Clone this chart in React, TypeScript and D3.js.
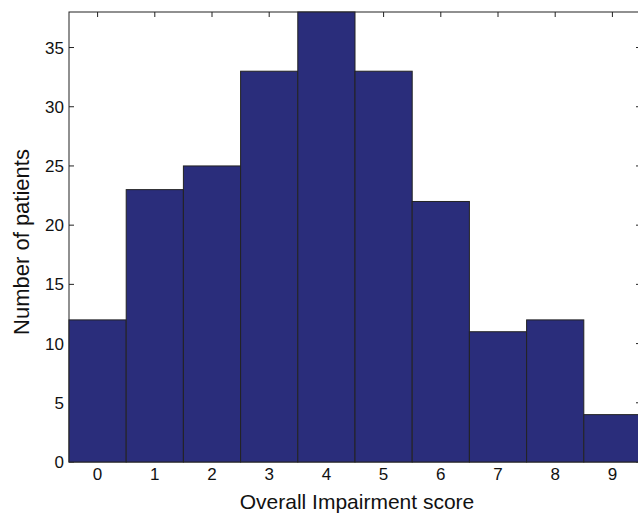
import { scaleLinear } from "d3";

// histogram of impairment scores
const scores = [0, 1, 2, 3, 4, 5, 6, 7, 8, 9];
const patients = [12, 23, 25, 33, 38, 33, 22, 11, 12, 4];
const yTicks = [0, 5, 10, 15, 20, 25, 30, 35];

const width = 638;
const height = 515;
const margin = { left: 69, top: 12, right: -3, bottom: 53 };

export default function App() {
  const x = scaleLinear()
    .domain([-0.5, 9.5])
    .range([margin.left, width - margin.right]);
  const y = scaleLinear()
    .domain([0, 38])
    .range([height - margin.bottom, margin.top]);

  const x0 = x.range()[0], x1 = x.range()[1];
  const y0 = y.range()[0], y1 = y.range()[1];
  const tick = 5;
  const font = "'Liberation Sans', Arial, Helvetica, sans-serif";

  return (
    <svg
      width={width}
      height={height}
      style={{ position: "absolute", left: 0, top: 0, background: "white" }}
      fontFamily={font}
    >
      <g fill="none" stroke="#222" strokeWidth={1}>
        <rect x={x0} y={y1} width={x1 - x0} height={y0 - y1} />
        {scores.map((s) => (
          <g key={s}>
            <line x1={x(s)} x2={x(s)} y1={y0} y2={y0 - tick} />
            <line x1={x(s)} x2={x(s)} y1={y1} y2={y1 + tick} />
          </g>
        ))}
        {yTicks.map((t) => (
          <g key={t}>
            <line x1={x0} x2={x0 + tick} y1={y(t)} y2={y(t)} />
            <line x1={x1} x2={x1 - tick} y1={y(t)} y2={y(t)} />
          </g>
        ))}
      </g>

      <g fill="#2a2d7b" stroke="#232323" strokeWidth={1}>
        {scores.map((s, i) => (
          <rect
            key={s}
            x={x(s - 0.5)}
            y={y(patients[i])}
            width={x(s + 0.5) - x(s - 0.5)}
            height={y(0) - y(patients[i])}
          />
        ))}
      </g>

      <g fontSize={17} fill="#111">
        {scores.map((s) => (
          <text key={s} x={x(s)} y={y0 + 18} textAnchor="middle">
            {s}
          </text>
        ))}
        {yTicks.map((t) => (
          <text key={t} x={x0 - 5} y={y(t)} dy="0.36em" textAnchor="end">
            {t}
          </text>
        ))}
      </g>

      <text
        x={357}
        y={509}
        textAnchor="middle"
        fontSize={21}
        fill="#111"
      >
        Overall Impairment score
      </text>
      <text
        transform={`translate(29, 242) rotate(-90)`}
        textAnchor="middle"
        fontSize={22}
        fill="#111"
      >
        Number of patients
      </text>
    </svg>
  );
}
